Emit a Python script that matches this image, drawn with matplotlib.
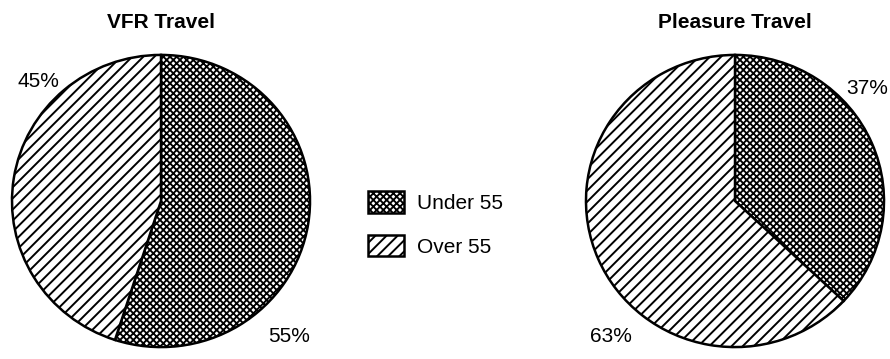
import matplotlib.pyplot as plt
from matplotlib.patches import Patch

plt.rcParams['font.family'] = ['Liberation Sans', 'DejaVu Sans']
plt.rcParams['hatch.linewidth'] = 1.4

groups = ['Under 55', 'Over 55']
hatches = ['xxxxx', '///']
hatch_widths = [1.35, 1.4]
titles = ['VFR Travel', 'Pleasure Travel']
vfr_share = [55, 45]
pleasure_share = [37, 63]
# where each percentage sits, in pie units (x, y)
vfr_label_pos = [(0.86, -0.93), (-0.82, 0.82)]
pleasure_label_pos = [(0.89, 0.77), (-0.83, -0.93)]

W, H = 890, 359
fig = plt.figure(figsize=(W / 100, H / 100), dpi=100)


def style_patch(p, hatch, hw):
    p.set_hatch(hatch)
    if hasattr(p, 'set_hatch_linewidth'):
        p.set_hatch_linewidth(hw)


def draw_pie(cx, cy, rx, ry, shares, title, label_pos):
    ax = fig.add_axes([(cx - rx) / W, (H - cy - ry) / H, 2 * rx / W, 2 * ry / H])
    wedges, _ = ax.pie(shares, startangle=90, counterclock=False,
                       colors=['white', 'white'],
                       wedgeprops=dict(edgecolor='black', linewidth=1.8))
    for w, h, hw in zip(wedges, hatches, hatch_widths):
        style_patch(w, h, hw)
    ax.set_aspect('auto')
    ax.set_xlim(-1.02, 1.02)
    ax.set_ylim(-1.02, 1.02)
    for v, (x, y) in zip(shares, label_pos):
        ax.text(x, y, f'{v}%', ha='center', va='center', fontsize=15, clip_on=False)
    fig.text(cx / W, 1 - 22 / H, title, ha='center', va='center',
             fontsize=15, fontweight='bold')
    return ax


draw_pie(161, 201, 152, 149, vfr_share, titles[0], vfr_label_pos)
draw_pie(735, 201, 152, 149, pleasure_share, titles[1], pleasure_label_pos)

handles = [Patch(facecolor='white', edgecolor='black', hatch=h, linewidth=1.8, label=g)
           for g, h in zip(groups, hatches)]
leg = fig.legend(handles=handles, loc='center left', bbox_to_anchor=(368 / W, 1 - 224 / H),
                 frameon=False, borderpad=0, borderaxespad=0, fontsize=15,
                 handlelength=1.75, handleheight=1.2, handletextpad=0.6, labelspacing=1.05)
for p, h, hw in zip(leg.get_patches(), hatches, hatch_widths):
    style_patch(p, h, hw)

fig.savefig('out.png', dpi=100)
